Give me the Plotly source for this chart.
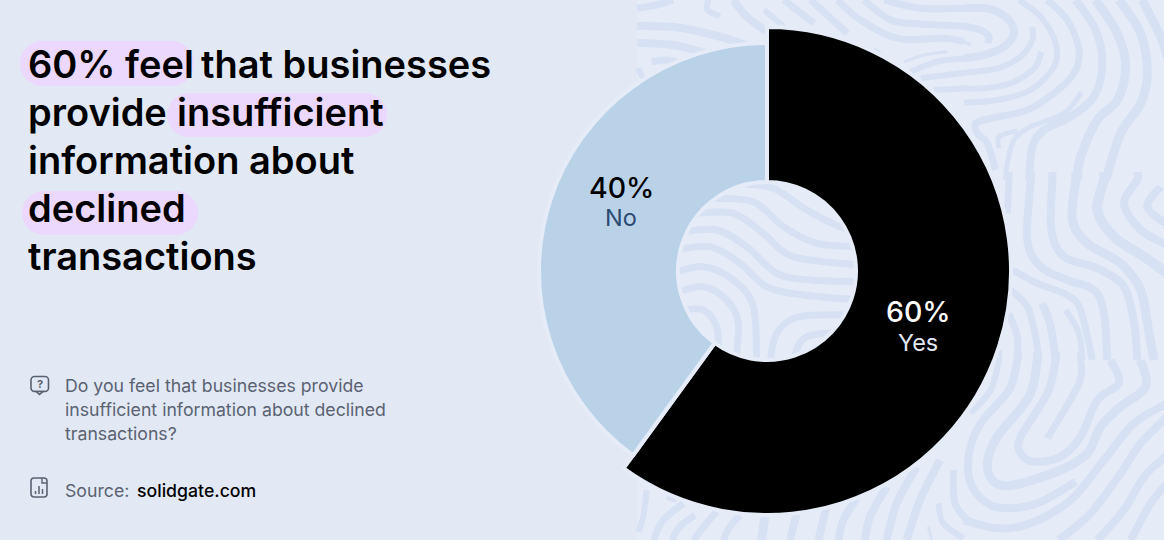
import plotly.graph_objects as go

# ---- data ----
categories = ["Yes", "No"]
values = [60, 40]
title_runs = [
    ("60% feel", 28, 64), ("that businesses", 201, 64),
    ("provide", 28, 112), ("insufficient", 177, 112),
    ("information about", 28, 160),
    ("declined", 28, 208),
    ("transactions", 28, 256),
]
question_lines = ["Do you feel that businesses provide",
                  "insufficient information about declined",
                  "transactions?"]
source_label = "Source:"
source_site = "solidgate.com"

# ---- style / geometry ----
W, H = 1164, 540
BG, PANEL, BAND = "#E2E9F4", "#E5ECF7", "#D6E1F4"
PILL = "#ECD8FC"
LIGHT = "#B9D2E8"
CX, CY = 767, 271
FONT = "Inter"


def px(x):
    return x / W


def py(y):
    return 1 - y / H


def smooth(pts):
    d = f"M {px(pts[0][0]):.5f},{py(pts[0][1]):.5f}"
    n = len(pts)
    for i in range(n - 1):
        p0 = pts[max(i - 1, 0)]
        p1 = pts[i]
        p2 = pts[i + 1]
        p3 = pts[min(i + 2, n - 1)]
        c1 = (p1[0] + (p2[0] - p0[0]) / 6, p1[1] + (p2[1] - p0[1]) / 6)
        c2 = (p2[0] - (p3[0] - p1[0]) / 6, p2[1] - (p3[1] - p1[1]) / 6)
        d += (f" C {px(c1[0]):.5f},{py(c1[1]):.5f} {px(c2[0]):.5f},{py(c2[1]):.5f}"
              f" {px(p2[0]):.5f},{py(p2[1]):.5f}")
    return d


def rrect(x0, y0, x1, y1, r, k=0.45):
    P = [("M", (x0 + r, y0)), ("L", (x1 - r, y0)),
         ("C", (x1 - r * k, y0), (x1, y0 + r * k), (x1, y0 + r)),
         ("L", (x1, y1 - r)),
         ("C", (x1, y1 - r * k), (x1 - r * k, y1), (x1 - r, y1)),
         ("L", (x0 + r, y1)),
         ("C", (x0 + r * k, y1), (x0, y1 - r * k), (x0, y1 - r)),
         ("L", (x0, y0 + r)),
         ("C", (x0, y0 + r * k), (x0 + r * k, y0), (x0 + r, y0))]
    out = []
    for seg in P:
        out.append(seg[0] + " " + " ".join(f"{px(a):.5f},{py(b):.5f}" for a, b in seg[1:]))
    return " ".join(out) + " Z"


def poly(pts, close=False):
    s = " ".join(("M " if i == 0 else "L ") + f"{px(a):.5f},{py(b):.5f}" for i, (a, b) in enumerate(pts))
    return s + (" Z" if close else "")


# decorative wavy background: (origin x, origin y, stroke width, crop-coordinate points at 3x)
bands = [
    # upper right
    (964, 0, 7, [(0,25),(70,25),(130,55),(150,100),(120,140),(60,165),(0,175)]),
    (964, 0, 6, [(0,78),(50,90),(75,110),(70,130)]),
    (964, 0, 3, [(0,125),(20,135)]),
    (964, 0, 5, [(205,80),(205,120),(170,170),(100,205),(0,218)]),
    (964, 0, 5, [(232,155),(210,205),(140,250),(60,265),(0,265)]),
    (964, 0, 5, [(165,0),(230,50),(275,130),(270,200),(200,270),(100,300),(0,308)]),
    (964, 0, 6, [(250,0),(310,60),(345,150),(330,220),(270,280),(190,330),(80,355),(35,370),(40,400),(70,430),(95,510)]),
    (964, 0, 7, [(335,0),(395,90),(415,190),(390,290),(320,350),(240,390),(205,440),(195,540)]),
    (964, 0, 4, [(352,278),(300,340),(200,380),(150,420),(130,490),(125,540)]),
    (964, 0, 8, [(395,0),(460,100),(485,200),(460,300),(400,360),(350,470),(340,540)]),
    (964, 0, 8, [(465,0),(530,100),(550,220),(530,310),(470,400),(425,540)]),
    (964, 0, 8, [(535,0),(590,110),(610,170)]),
    (964, 0, 4, [(105,445),(105,410),(160,392)]),
    # middle right
    (964, 180, 6, [(135,0),(130,100)]),
    (964, 180, 7, [(200,0),(190,180),(230,260),(310,300),(390,330),(420,400),(430,540)]),
    (964, 180, 7, [(265,0),(262,150),(300,230),(400,265),(480,320),(510,430),(520,540)]),
    (964, 180, 8, [(335,0),(325,120),(370,190),(470,250),(530,330),(550,430),(570,540)]),
    (964, 180, 9, [(420,0),(400,90),(450,170),(540,230),(610,280)]),
    (964, 180, 7, [(520,0),(480,70),(530,150),(610,195)]),
    (964, 180, 7, [(590,20),(550,80),(610,135)]),
    (964, 180, 6, [(145,270),(220,310),(310,345),(350,390),(385,540)]),
    (964, 180, 6, [(140,330),(190,380),(215,470),(225,540)]),
    (964, 180, 7, [(235,370),(260,440),(275,540)]),
    (964, 180, 5, [(305,390),(345,460),(355,540)]),
    (964, 180, 6, [(135,400),(160,470),(160,540)]),
    (964, 180, 5, [(105,510),(105,540)]),
    # lower right
    (964, 360, 5, [(105,0),(80,90),(20,160)]),
    (964, 360, 7, [(160,0),(135,90),(50,190),(15,280),(20,370),(70,430),(130,445),(220,430),(335,365)]),
    (964, 360, 8, [(220,0),(195,110),(100,230),(70,310),(90,365),(150,375),(290,330),(370,280),(410,200),(470,140),(545,80),(530,0)]),
    (964, 360, 7, [(275,0),(250,100),(170,230),(170,280),(210,305),(290,290),(350,230),(400,120),(465,70),(440,0)]),
    (964, 360, 6, [(350,0),(345,70),(250,235)]),
    (964, 360, 7, [(0,480),(100,505),(200,490),(320,420),(420,300),(510,190),(610,130)]),
    (964, 360, 7, [(285,540),(380,460),(470,340),(530,250),(610,170)]),
    (964, 360, 7, [(400,540),(480,450),(540,350),(610,285)]),
    (964, 360, 7, [(500,540),(560,430),(610,370)]),
    # upper middle
    (764, 0, 6, [(360,0),(470,25),(600,25)]),
    (764, 0, 6, [(300,0),(380,60),(470,72),(600,78)]),
    (764, 0, 6, [(220,0),(290,60),(400,115),(540,115),(600,125)]),
    (764, 0, 6, [(140,0),(250,100)]),
    (764, 0, 6, [(60,0),(150,70)]),
    (764, 0, 5, [(0,30),(60,80)]),
    (764, 0, 3, [(330,145),(360,170)]),
    (764, 0, 3, [(420,185),(480,165),(550,155)]),
    (764, 0, 5, [(440,215),(520,185),(600,175)]),
    (764, 0, 5, [(470,235),(600,218)]),
    (764, 0, 5, [(510,270),(600,265)]),
    # upper left
    (630, 0, 6, [(20,25),(80,15),(130,0)]),
    (630, 0, 7, [(20,78),(140,82),(250,105),(350,135)]),
    (630, 0, 7, [(20,128),(130,135),(230,160)]),
    (630, 0, 6, [(65,185),(110,180),(150,190)]),
    (630, 0, 5, [(23,205),(40,235)]),
    (630, 0, 5, [(235,0),(232,30),(270,48)]),
    (630, 0, 7, [(310,0),(350,50),(410,95)]),
    # bottom
    (630, 460, 5, [(50,90),(40,170),(25,215)]),
    (630, 460, 5, [(110,110),(140,120)]),
    (630, 460, 6, [(160,130),(100,180),(70,240)]),
    (630, 460, 6, [(195,165),(150,200),(125,240)]),
    (630, 460, 6, [(260,155),(230,190),(190,240)]),
    (630, 460, 6, [(330,165),(300,200),(280,240)]),
    (630, 460, 8, [(405,165),(395,240)]),
    (630, 460, 7, [(500,160),(480,240)]),
    (630, 460, 7, [(590,140),(565,240)]),
    (630, 460, 7, [(680,115),(640,180),(625,240)]),
    (630, 460, 7, [(770,80),(720,170),(705,240)]),
    (630, 460, 7, [(860,20),(800,130),(770,240)]),
    (630, 460, 7, [(930,0),(870,120),(830,240)]),
    (630, 460, 6, [(970,30),(975,130),(1020,190)]),
    (630, 460, 5, [(925,130),(940,190),(1000,235)]),
    (630, 460, 3, [(895,200),(905,240)]),
    # inside the hole
    (660, 170, 6, [(230,40),(340,55),(440,120),(540,170),(600,180)]),
    (660, 170, 6, [(160,85),(280,95),(370,170),(470,220),(600,230)]),
    (660, 170, 6, [(110,130),(220,130),(310,190),(400,260),(600,285)]),
    (660, 170, 6, [(70,185),(170,180),(260,230),(350,310),(450,330),(600,335)]),
    (660, 170, 6, [(45,240),(150,230),(240,280),(320,350),(430,375),(600,390)]),
    (660, 170, 6, [(35,310),(130,290),(220,330),(280,410),(290,580)]),
    (660, 170, 6, [(40,370),(130,350),(200,390),(235,460),(225,590)]),
    (660, 170, 6, [(65,420),(130,420),(170,470),(175,545)]),
    (660, 170, 6, [(330,580),(350,490),(420,440),(590,435)]),
    (660, 170, 6, [(400,570),(440,500),(580,485)]),
    (660, 170, 4, [(440,555),(490,520)]),
]

shapes = [dict(type="rect", xref="paper", yref="paper", x0=px(637), x1=1, y0=0, y1=1,
               fillcolor=PANEL, line_width=0, layer="below")]
for ox, oy, w, pts in bands:
    if oy in (180, 360) and pts[0][1] == 0:
        pts = [(pts[0][0], -24)] + pts      # overlap the crop seams
    shapes.append(dict(type="path", xref="paper", yref="paper", layer="below",
                       path=smooth([(max(637, ox + x / 3), oy + y / 3) for x, y in pts]),
                       line=dict(color=BAND, width=w + (1 if w > 3 else 0))))

# highlight pills behind the title
for x0, y0, x1, y1 in [(20, 41, 194, 86), (167, 93, 387, 137), (22, 191, 198, 235)]:
    shapes.append(dict(type="path", xref="paper", yref="paper", path=rrect(x0, y0, x1, y1, 22),
                       fillcolor=PILL, line_width=0, layer="below"))

# icons
ICON = "#5A6272"
shapes.append(dict(type="path", xref="paper", yref="paper", layer="below",
                   path=rrect(31, 376.5, 48.5, 391.5, 3.5), line=dict(color=ICON, width=1.6)))
shapes.append(dict(type="path", xref="paper", yref="paper", layer="below",
                   path=poly([(36, 391.5), (39.5, 394.5), (43, 391.5)], True),
                   fillcolor=BG, line=dict(color=ICON, width=1.6)))
shapes.append(dict(type="path", xref="paper", yref="paper", layer="below",
                   path=rrect(31, 478, 47, 497, 3), line=dict(color=ICON, width=1.6)))
shapes.append(dict(type="path", xref="paper", yref="paper", layer="below",
                   path=poly([(42, 478), (42, 483), (47, 483)]), line=dict(color=ICON, width=1.4)))
for x, y in [(35.5, 491), (39, 486), (42.5, 489)]:
    shapes.append(dict(type="path", xref="paper", yref="paper", layer="below",
                       path=poly([(x, y), (x, 494)]), line=dict(color=ICON, width=1.5)))


def dom(r):
    return dict(x=[px(CX - r), px(CX + r)], y=[1 - (CY + r) / H, 1 - (CY - r) / H])


NONE = "rgba(0,0,0,0)"
R_DARK, R_LIGHT, R_HOLE = 244, 228, 89
fig = go.Figure()
fig.add_trace(go.Pie(labels=categories, values=values, sort=False, direction="clockwise", rotation=0,
                     domain=dom(R_DARK), hole=R_HOLE / R_DARK, textinfo="none", showlegend=False,
                     marker=dict(colors=["#000000", NONE], line=dict(color=[PANEL, NONE], width=4))))
fig.add_trace(go.Pie(labels=categories, values=values, sort=False, direction="clockwise", rotation=0,
                     domain=dom(R_LIGHT), hole=R_HOLE / R_LIGHT, textinfo="none", showlegend=False,
                     marker=dict(colors=[NONE, LIGHT], line=dict(color=[NONE, PANEL], width=4))))

ann = []


def text(s, x, y, size, color, weight=400, anchor="left"):
    ann.append(dict(text=s, x=px(x), y=py(y), xref="paper", yref="paper", showarrow=False,
                    xanchor=anchor, yanchor="middle", align=anchor, borderpad=0, borderwidth=0,
                    font=dict(family=FONT, size=size, color=color, weight=weight)))


for s, x, y in title_runs:
    text(s, x, y, 38, "#000000", 600)
for i, line in enumerate(question_lines):
    text(line, 65, 385.5 + 24 * i, 17.7, "#5A6272")
text("?", 39.7, 383.5, 11, ICON, 700, "center")
text(source_label, 65, 490, 17.7, "#5A6272")
text(source_site, 137, 490, 17.7, "#000000", 500)
text(f"{values[0]}%", 918, 311, 28.5, "#FFFFFF", 500, "center")
text(categories[0], 918, 342, 23.5, "#E2E9F4", 400, "center")
text(f"{values[1]}%", 621, 187, 28.5, "#000000", 500, "center")
text(categories[1], 621, 218, 23.5, "#2B4A70", 400, "center")

fig.update_layout(width=W, height=H, margin=dict(l=0, r=0, t=0, b=0), paper_bgcolor=BG,
                  plot_bgcolor=BG, shapes=shapes, annotations=ann, showlegend=False)
fig.write_html("out.html", config=dict(displayModeBar=False),
               post_script="document.body.style.margin='0';document.documentElement.style.overflow='hidden';")
